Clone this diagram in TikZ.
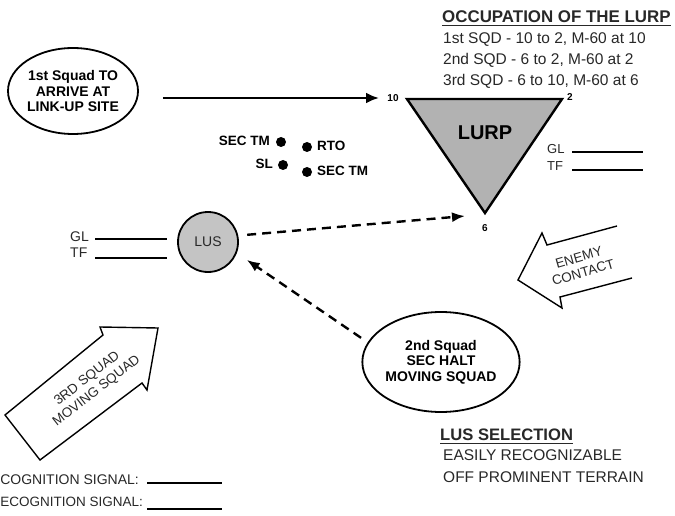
\documentclass[tikz,border=0pt]{standalone}
\usepackage{fontspec}
\setmainfont{Liberation Sans}
\usetikzlibrary{arrows.meta,shapes.geometric}
\definecolor{trigray}{RGB}{178,178,178}
\definecolor{lusgray}{RGB}{196,196,196}
\definecolor{txt}{RGB}{40,40,40}
\newcommand\fB[1]{\fontsize{#1}{15.5}\selectfont\bfseries}
\newcommand\fR[1]{\fontsize{#1}{15.5}\selectfont}
\begin{document}
\begin{tikzpicture}[x=1pt,y=-1pt,
  bubble/.style={draw,ellipse,line width=1.8pt,align=center,inner sep=0pt},
  dotnode/.style={circle,fill=black,inner sep=0pt,minimum size=10pt},
  dlabel/.style={font=\fB{13.5},inner sep=0pt},
  blank/.style={line width=1.4pt},
  dasharrow/.style={line width=2.4pt,dash pattern=on 9pt off 6pt,-{Latex[length=13pt,width=10pt]}},
  plain/.style={inner sep=0pt,text=txt}]
\useasboundingbox (0,0) rectangle (675,516);
\fill[white] (0,0) rectangle (675,516);

% 1st squad ellipse
\node[bubble,minimum width=130pt,minimum height=86pt,font=\fB{14}] (e1) at (73,91)
  {1st Squad TO\\ARRIVE AT\\LINK-UP SITE};

% LURP triangle
\coordinate (c10) at (407,99);
\coordinate (c2) at (562,99);
\coordinate (c6) at (485,213);
\draw[line width=2.4pt,fill=trigray,line join=miter] (c10) -- (c2) -- (c6) -- cycle;
\node[font=\fB{20},inner sep=0pt] (lurp) at (485,133) {LURP};
\node[font=\fB{10},inner sep=0pt] (l10) at (393,98) {10};
\node[font=\fB{10},inner sep=0pt] (l2) at (570,97) {2};
\node[font=\fB{10},inner sep=0pt] (l6) at (485,228) {6};

% arrow 1st squad -> LURP
\coordinate (a1e) at (379,98);
\draw[line width=2.6pt,-{Latex[length=13pt,width=11pt]},shorten <=24pt] (e1.east |- a1e) -- (a1e);

% occupation text
\node[plain,anchor=base west,font=\fB{16.9}] (occ) at (442,22.7) {OCCUPATION OF THE LURP};
\draw[line width=1.3pt,txt] ([yshift=-2.5pt]occ.base west) -- ([yshift=-2.5pt]occ.base east);
\node[plain,anchor=base west,font=\fR{15.5}] (o1) at (443,44) {1st SQD - 10 to 2, M-60 at 10};
\node[plain,anchor=base west,font=\fR{15.5}] (o2) at (443,65) {2nd SQD - 6 to 2, M-60 at 2};
\node[plain,anchor=base west,font=\fR{15.5}] (o3) at (443,86) {3rd SQD - 6 to 10, M-60 at 6};

% GL / TF near LURP
\node[plain,anchor=base west,font=\fR{13}] (gl1) at (547,154) {GL};
\node[plain,anchor=base west,font=\fR{13}] (tf1) at (547,170.5) {TF};
\draw[line width=1.2pt] (572,152) -- (643,152);
\draw[line width=1.2pt] (572,170) -- (643,170);

% dots
\node[dotnode] (d1) at (281,142) {};
\node[dotnode] (d2) at (307,147) {};
\node[dotnode] (d3) at (283,165) {};
\node[dotnode] (d4) at (307,172) {};
\node[dlabel,anchor=east] (d1l) at (270,141) {SEC TM};
\node[dlabel,anchor=west] (d2l) at (317,146) {RTO};
\node[dlabel,anchor=east] (d3l) at (273,164) {SL};
\node[dlabel,anchor=west] (d4l) at (317,171) {SEC TM};

% LUS
\node[circle,draw,line width=1.8pt,fill=lusgray,minimum size=60pt,inner sep=0pt,font=\fR{14},text=txt] (lus) at (208,242) {LUS};
\node[plain,anchor=base west,font=\fR{14}] (gl2) at (70,241.7) {GL};
\node[plain,anchor=base west,font=\fR{14}] (tf2) at (70,257.5) {TF};
\draw[line width=1.2pt] (95,239) -- (167,239);
\draw[line width=1.2pt] (95,258) -- (167,258);

% 2nd squad ellipse
\node[bubble,minimum width=148pt,minimum height=100pt,font=\fB{14}] (e2) at (441,362)
  {2nd Squad\\SEC HALT\\MOVING SQUAD};

% dashed arrows
\coordinate (t6tip) at (465,216);
\draw[dasharrow,shorten <=9pt] (lus.12) -- (t6tip);
\draw[dasharrow,shorten <=8pt,shorten >=12pt] (e2.165) -- (lus.-21);

% enemy contact arrow
\draw[blank,line join=miter] (617,226) -- (547,245) -- (542,233) -- (518,280) -- (562,308) -- (560,297) -- (632,278);
\node[plain,font=\fR{13.5},align=center,rotate=16] (enemy) at (581,265) {ENEMY\\CONTACT};

% 3rd squad arrow
\draw[blank,line join=miter] (103,335) -- (100,327) -- (158,328) -- (147,390) -- (142,383) -- (40,460) -- (5,415) -- cycle;
\node[plain,font=\fR{13.5},align=center,rotate=38] (third) at (92,385) {3RD SQUAD\\MOVING SQUAD};

% recognition signals
\node[plain,anchor=base east,font=\fR{14}] (rs1) at (139,484) {COGNITION SIGNAL:};
\node[plain,anchor=base east,font=\fR{13.5}] (rs2) at (143,506.7) {ECOGNITION SIGNAL:};
\draw[line width=1.2pt] (147,483) -- (222,483);
\draw[line width=1.8pt] (147,509) -- (222,509);

% LUS selection
\node[plain,anchor=base west,font=\fB{16.6}] (lsel) at (440,440.7) {LUS SELECTION};
\draw[line width=1.3pt,txt] ([yshift=-2.8pt]lsel.base west) -- ([yshift=-2.8pt]lsel.base east);
\node[plain,anchor=base west,font=\fR{15.5}] (ls1) at (443,460.7) {EASILY RECOGNIZABLE};
\node[plain,anchor=base west,font=\fR{15.5}] (ls2) at (443,482.7) {OFF PROMINENT TERRAIN};
\end{tikzpicture}
\end{document}
